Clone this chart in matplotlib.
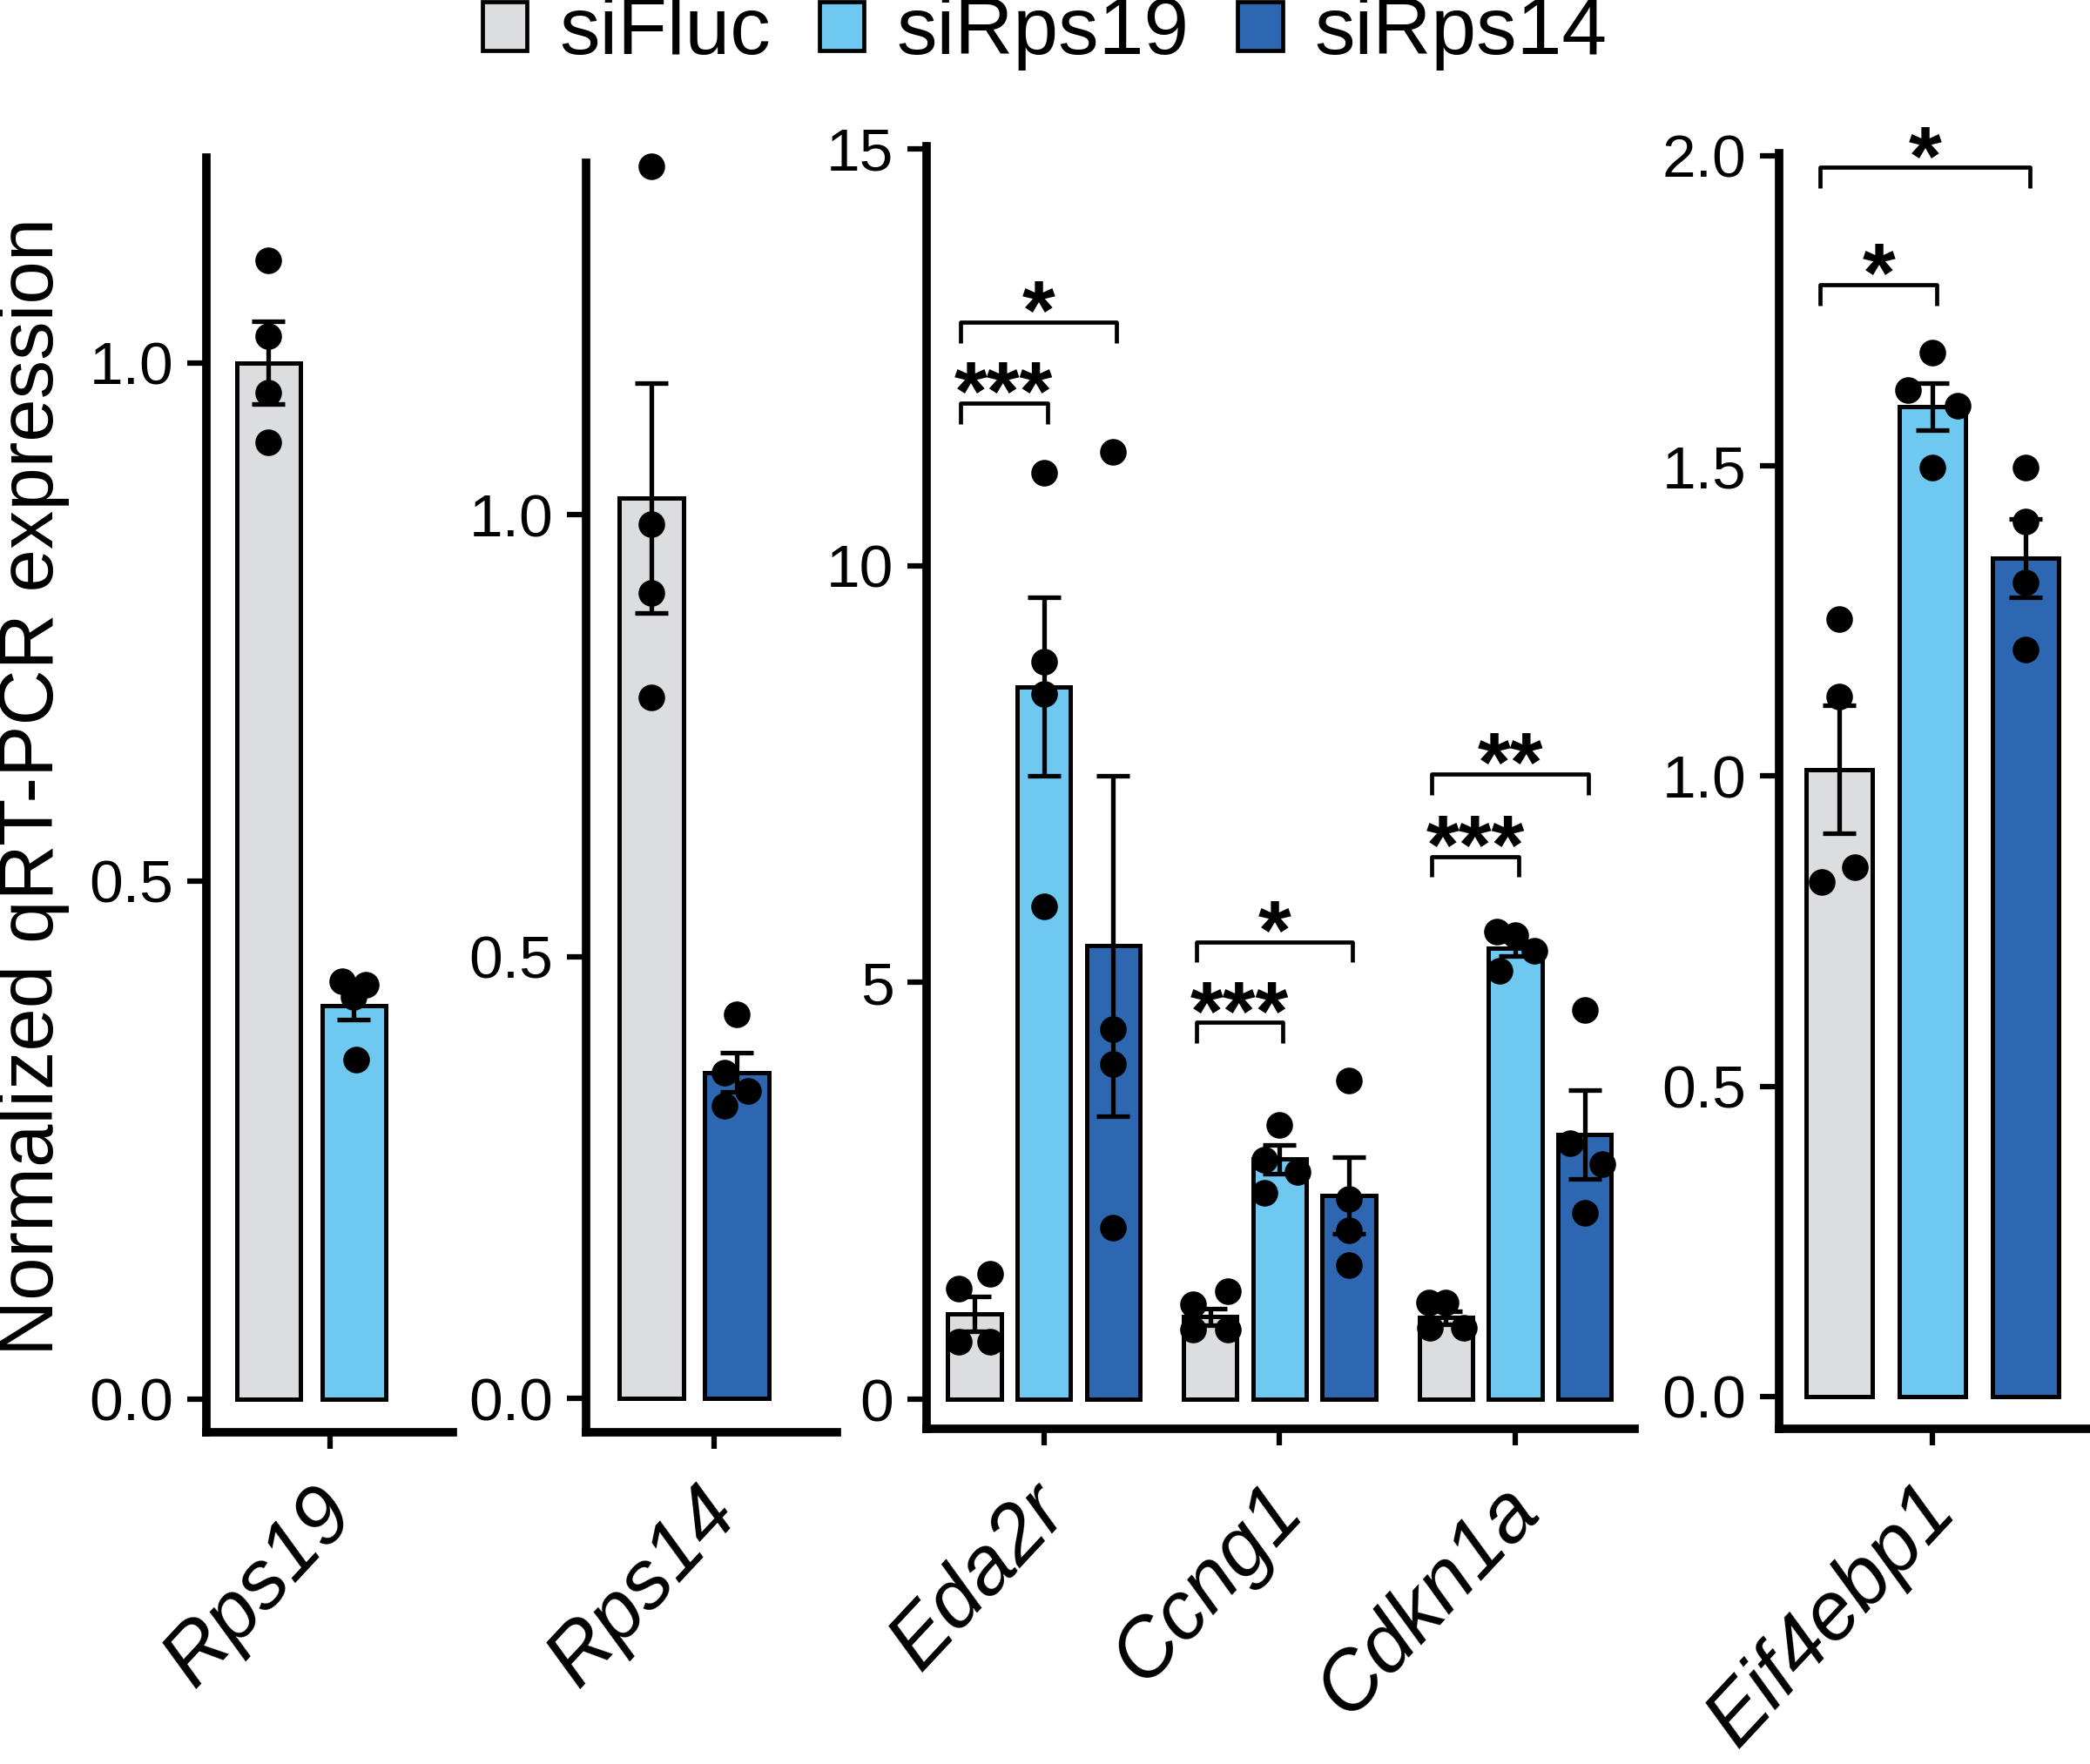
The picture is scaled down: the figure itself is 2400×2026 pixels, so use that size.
import matplotlib.pyplot as plt
from matplotlib.patches import Patch
from matplotlib.transforms import offset_copy

plt.rcParams['font.family'] = ['Liberation Sans', 'DejaVu Sans']

# ---- data ----
conditions = ["siFluc", "siRps19", "siRps14"]
colors = {"siFluc": "#DCDDDF", "siRps19": "#6EC8F0", "siRps14": "#2E67B1"}

rps19_conds = ["siFluc", "siRps19"]
rps19_mean = [1.00, 0.380]
rps19_sem = [0.040, 0.014]
rps19_pts = [[1.099, 1.026, 0.971, 0.923], [0.403, 0.400, 0.388, 0.328]]

rps14_conds = ["siFluc", "siRps14"]
rps14_mean = [1.019, 0.369]
rps14_sem = [0.130, 0.022]
rps14_pts = [[1.394, 0.989, 0.911, 0.793], [0.435, 0.369, 0.348, 0.331]]

eda2r_mean = [1.03, 8.55, 5.44]
eda2r_sem = [0.21, 1.07, 2.04]
eda2r_pts = [[1.51, 1.33, 0.69, 0.69], [11.11, 8.85, 8.46, 5.91], [11.36, 4.44, 4.02, 2.06]]
eda2r_sig = [("siRps19", "***", 11.95), ("siRps14", "*", 12.92)]

ccng1_mean = [0.99, 2.88, 2.45]
ccng1_sem = [0.10, 0.17, 0.46]
ccng1_pts = [[1.30, 1.14, 0.84, 0.84], [3.29, 2.87, 2.73, 2.48], [3.82, 2.40, 2.03, 1.61]]
ccng1_sig = [("siRps19", "***", 4.52), ("siRps14", "*", 5.49)]

cdkn1a_mean = [0.98, 5.41, 3.18]
cdkn1a_sem = [0.08, 0.09, 0.53]
cdkn1a_pts = [[1.16, 1.16, 0.86, 0.86], [5.61, 5.57, 5.38, 5.14], [4.67, 3.07, 2.82, 2.24]]
cdkn1a_sig = [("siRps19", "***", 6.51), ("siRps14", "**", 7.50)]

eif_mean = [1.011, 1.596, 1.351]
eif_sem = [0.103, 0.038, 0.063]
eif_pts = [[1.253, 1.128, 0.853, 0.830], [1.682, 1.622, 1.597, 1.497], [1.497, 1.411, 1.312, 1.204]]
eif_sig = [("siRps19", "*", 1.792), ("siRps14", "*", 1.981)]

# horizontal jitter of the dots (fraction of bar spacing)
rps19_jit = [[0, 0, 0, 0], [-0.14, 0.14, 0.0, 0.03]]
rps14_jit = [[0, 0, 0, 0], [0, -0.14, 0.13, -0.14]]
eda2r_jit = [[0.23, -0.23, -0.23, 0.23], [0, 0, 0, 0], [0, 0, 0, 0]]
ccng1_jit = [[0.25, -0.25, -0.25, 0.25], [0, -0.22, 0.26, -0.22], [0, 0, 0, 0]]
cdkn1a_jit = [[-0.25, 0.0, -0.23, 0.26], [-0.26, 0.0, 0.27, -0.23], [0, -0.21, 0.26, 0]]
eif_jit = [[0, 0, 0.17, -0.18], [0, -0.26, 0.27, 0], [0, 0, 0, 0]]

genes = {
    "Rps19": (rps19_conds, rps19_mean, rps19_sem, rps19_pts, rps19_jit, []),
    "Rps14": (rps14_conds, rps14_mean, rps14_sem, rps14_pts, rps14_jit, []),
    "Eda2r": (conditions, eda2r_mean, eda2r_sem, eda2r_pts, eda2r_jit, eda2r_sig),
    "Ccng1": (conditions, ccng1_mean, ccng1_sem, ccng1_pts, ccng1_jit, ccng1_sig),
    "Cdkn1a": (conditions, cdkn1a_mean, cdkn1a_sem, cdkn1a_pts, cdkn1a_jit, cdkn1a_sig),
    "Eif4ebp1": (conditions, eif_mean, eif_sem, eif_pts, eif_jit, eif_sig),
}

# ---- layout ----
W, H = 2400, 2026
fig = plt.figure(figsize=(W / 100, H / 100), dpi=100)

panels = [
    # rect px (left, right, top, bottom), genes, group centres, bar offsets, tick pos, limits, y ticks, bar width
    dict(rect=(237, 520, 181, 1645), genes=["Rps19"], centres=[0], offs=[0, 1], ticks=[0.72],
         xlim=(-0.73, 2.16), ylim=(-0.032, 1.198), yt=[0, 0.5, 1.0], ytl=["0.0", "0.5", "1.0"], bw=0.75),
    dict(rect=(673, 961, 187, 1645), genes=["Rps14"], centres=[0], offs=[0, 1], ticks=[0.73],
         xlim=(-0.766, 2.17), ylim=(-0.038, 1.398), yt=[0, 0.5, 1.0], ytl=["0.0", "0.5", "1.0"], bw=0.75),
    dict(rect=(1064, 1877, 168, 1641), genes=["Eda2r", "Ccng1", "Cdkn1a"], centres=[0, 3.4, 6.8],
         offs=[-1, 0, 1], ticks=[0, 3.4, 6.8],
         xlim=(-1.69, 8.52), ylim=(-0.352, 15.03), yt=[0, 5, 10, 15], ytl=["0", "5", "10", "15"], bw=0.77),
    dict(rect=(2043, 2400, 176, 1641), genes=["Eif4ebp1"], centres=[0], offs=[-1, 0, 1], ticks=[0],
         xlim=(-1.64, 1.69), ylim=(-0.052, 2.004), yt=[0, 0.5, 1.0, 1.5, 2.0],
         ytl=["0.0", "0.5", "1.0", "1.5", "2.0"], bw=0.71),
]

for p in panels:
    l, r, t, b = p["rect"]
    ax = fig.add_axes([l / W, 1 - b / H, (r - l) / W, (b - t) / H])
    for gi, g in enumerate(p["genes"]):
        conds, mean, sem, pts, jit, sig = genes[g]
        xs = [p["centres"][gi] + p["offs"][k] for k in range(len(conds))]
        ax.bar(xs, mean, width=p["bw"], color=[colors[c] for c in conds],
               edgecolor="black", linewidth=3.6, zorder=2)
        ax.errorbar(xs, mean, yerr=sem, fmt="none", ecolor="black",
                    elinewidth=3.8, capsize=14, capthick=3.8, zorder=3)
        for k in range(len(conds)):
            ax.plot([xs[k] + j for j in jit[k]], pts[k], "o", color="black",
                    markersize=22, markeredgewidth=0, zorder=4, clip_on=False)
        yr = p["ylim"][1] - p["ylim"][0]
        for cond, stars, yb in sig:
            x1 = xs[0] - 0.2
            x2 = xs[conds.index(cond)] + 0.05
            d = 0.016 * yr
            ax.plot([x1, x1, x2, x2], [yb - d, yb, yb, yb - d], color="black",
                    linewidth=3.4, solid_capstyle="butt", zorder=3)
            ax.annotate(stars, ((x1 + x2) / 2, yb), xytext=(0, -14),
                        textcoords="offset points", ha="center", va="baseline",
                        fontsize=70, fontweight="bold")
    ax.set_xlim(*p["xlim"])
    ax.set_ylim(*p["ylim"])
    ax.set_yticks(p["yt"])
    ax.set_yticklabels(p["ytl"], fontsize=50)
    ax.set_xticks(p["ticks"])
    ax.set_xticklabels([])
    lab_tr = offset_copy(ax.get_xaxis_transform(), fig=fig, x=-15, y=-35, units="points")
    for xt, g in zip(p["ticks"], p["genes"]):
        ax.text(xt, 0, g, transform=lab_tr, fontsize=68, style="italic", rotation=47,
                ha="right", va="top", rotation_mode="anchor", clip_on=False)
    ax.tick_params(axis="y", length=16, width=4.5, pad=11)
    ax.tick_params(axis="x", length=14, width=4.5)
    for s in ["top", "right"]:
        ax.spines[s].set_visible(False)
    for s in ["left", "bottom"]:
        ax.spines[s].set_linewidth(7)
        ax.spines[s].set_capstyle("projecting")
    ax.patch.set_alpha(0)

fig.text(38 / W, 1 - 903 / H, "Normalized qRT-PCR expression", rotation=90,
         fontsize=64, ha="center", va="center")

handles = [Patch(facecolor=colors[c], edgecolor="black", linewidth=3.4) for c in conditions]
fig.legend(handles, conditions, loc="center", bbox_to_anchor=(0.5, 0.981), ncol=3,
           frameon=False, fontsize=67, handlelength=0.55, handleheight=0.55,
           handletextpad=0.4, columnspacing=0.6, borderaxespad=0, borderpad=0)

fig.savefig("out.png", dpi=100)
